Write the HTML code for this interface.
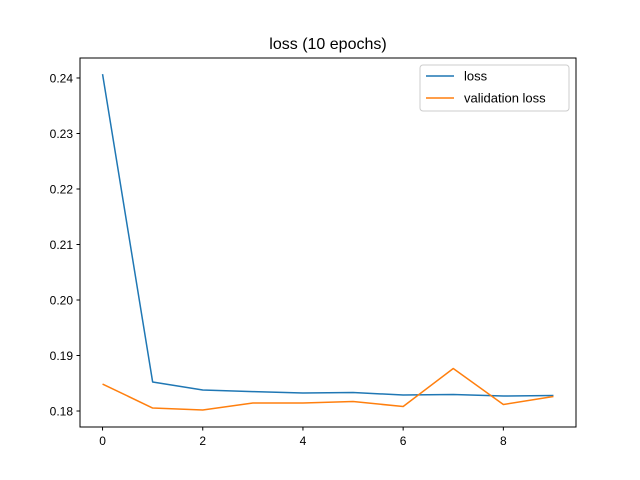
<!DOCTYPE html>
<html><head><meta charset="utf-8"><style>body{margin:0;background:#fff}svg{display:block;font-family:"Liberation Sans","DejaVu Sans",sans-serif}</style></head>
<body>
<svg id="chart" width="640" height="480">
<rect width="640" height="480" fill="#fff"/>
<text x="328" y="49" font-size="16" text-anchor="middle">loss (10 epochs)</text>
<g id="plot"></g>
<rect x="80" y="58" width="496" height="369" fill="none" stroke="#000" stroke-width="1"/>
<g>
<rect x="420" y="65" width="149" height="46" rx="3" fill="#fff" stroke="#ccc"/>
<line x1="426" y1="76" x2="454" y2="76" stroke="#1f77b4" stroke-width="1.5"/>
<text x="464" y="80.5" font-size="13">loss</text>
<line x1="426" y1="98" x2="454" y2="98" stroke="#ff7f0e" stroke-width="1.5"/>
<text x="464" y="102.5" font-size="13">validation loss</text>
</g>
</svg>
<script>
const epochs=[0,1,2,3,4,5,6,7,8,9];
const lossValues=[0.2407,0.18522,0.18378,0.1835,0.18324,0.18333,0.18288,0.18297,0.1827,0.1828];
const valLossValues=[0.18486,0.18054,0.18018,0.18144,0.18144,0.18171,0.18081,0.18766,0.18117,0.18261];
const xTicks=[0,2,4,6,8];
const yTicks=[0.18,0.19,0.20,0.21,0.22,0.23,0.24];
const yMin=0.17712,yMax=0.2436,xMin=-0.45,xMax=9.45;
const L=80,R=576,T=58,B=427;
const sx=v=>L+(v-xMin)/(xMax-xMin)*(R-L);
const sy=v=>B-(v-yMin)/(yMax-yMin)*(B-T);
const g=document.getElementById('plot');
const NS='http://www.w3.org/2000/svg';
function mk(t,a){const e=document.createElementNS(NS,t);for(const k in a)e.setAttribute(k,a[k]);g.appendChild(e);return e;}
xTicks.forEach(v=>{
 const l=mk('line',{x1:sx(v),x2:sx(v),y1:B,y2:B+3.5,stroke:'#000'});
 
 
 const t=mk('text',{x:sx(v),y:B+18,'font-size':12,'text-anchor':'middle'});t.textContent=v;
 
 
});
yTicks.forEach(v=>{
 const l=mk('line',{x1:L-3.5,x2:L,y1:sy(v),y2:sy(v),stroke:'#000'});
 
 
 const t=mk('text',{x:L-7,y:sy(v)+4.5,'font-size':12,'text-anchor':'end'});t.textContent=v.toFixed(2);
 
 
});
function series(vals,color,name){
 const p=mk('polyline',{points:vals.map((v,i)=>sx(epochs[i])+','+sy(v)).join(' '),fill:'none',stroke:color,'stroke-width':1.5,'stroke-linejoin':'round'});
 
 
}
series(lossValues,'#1f77b4','loss-line');
series(valLossValues,'#ff7f0e','validation-loss-line');
</script>
</body></html>
